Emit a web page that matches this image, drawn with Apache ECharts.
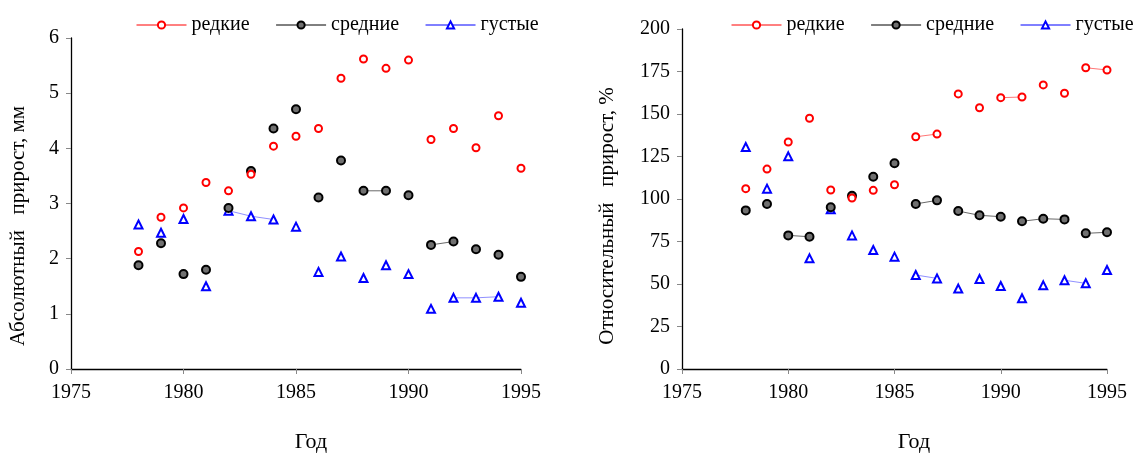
<!DOCTYPE html>
<html>
<head>
<meta charset="utf-8">
<script src="https://cdn.jsdelivr.net/npm/echarts@6/dist/echarts.min.js"></script>
<style>html,body{margin:0;padding:0;background:#fff}#c{width:1136px;height:457px}</style>
</head>
<body>
<div id="c"></div>
<script>
const years = [1978,1979,1980,1981,1982,1983,1984,1985,1986,1987,1988,1989,1990,1991,1992,1993,1994,1995];
const seriesNames = ['редкие','средние','густые'];
const absRare   = [2.13,2.75,2.92,3.38,3.23,3.53,4.04,4.22,4.36,5.27,5.62,5.45,5.60,4.16,4.36,4.01,4.59,3.64];
const absMedium = [1.88,2.28,1.72,1.80,2.92,3.59,4.36,4.71,3.11,3.78,3.23,3.23,3.15,2.25,2.31,2.17,2.07,1.67];
const absDense  = [2.62,2.47,2.72,1.50,2.87,2.77,2.71,2.58,1.76,2.04,1.65,1.88,1.72,1.09,1.29,1.29,1.31,1.20];
const relRare   = [106.1,117.6,133.5,147.5,105.3,100.6,105.1,108.4,136.6,138.2,161.8,153.7,159.6,160.0,167.1,162.2,177.2,175.9];
const relMedium = [93.3,97.1,78.6,77.8,95.1,101.9,113.1,121.0,97.1,99.2,92.9,90.4,89.6,86.9,88.4,88.0,79.8,80.4];
const relDense  = [130.6,106.1,125.1,65.1,93.9,78.6,70.0,66.1,55.3,53.3,47.3,52.9,48.8,41.6,49.2,52.2,50.4,58.2];
// years from which a connecting segment runs to the next year
const absRareLinks   = [];
const absMediumLinks = [1988,1991];
const absDenseLinks  = [1982,1983,1992,1993];
const relRareLinks   = [1986,1990,1994];
const relMediumLinks = [1980,1986,1988,1989,1991,1992,1994];
const relDenseLinks  = [1986,1993];
const xTicks = [1975,1980,1985,1990,1995];
const absTitle = 'Абсолютный   прирост, мм';
const relTitle = 'Относительный   прирост, %';
const xTitle = 'Год';

const FONT = 'Liberation Serif';
function buildData(vals, links){
  const out = [];
  years.forEach((y,i)=>{
    out.push([y, vals[i]]);
    if (i < years.length-1 && links.indexOf(y) < 0) out.push('-');
  });
  return out;
}
const styles = [
  {color:'#ff0000', symbol:'circle', size:7, fill:'#ffffff', line:'rgba(255,60,60,0.7)'},
  {color:'#000000', symbol:'circle', size:8, fill:'#707070', line:'rgba(40,40,40,0.7)'},
  {color:'#0000ff', symbol:'triangle', size:8, fill:'#ffffff', line:'rgba(70,70,255,0.6)'}
];
function mkSeries(idx, vals, links, gi){
  const s = styles[idx];
  return {
    type:'line', name:seriesNames[idx], xAxisIndex:gi, yAxisIndex:gi,
    data: buildData(vals, links), connectNulls:false,
    symbol:s.symbol, symbolSize:s.size, showAllSymbol:true,
    itemStyle:{color:s.fill, borderColor:s.color, borderWidth:2},
    lineStyle:{color:s.line, width:1},
    emphasis:{disabled:true}, animation:false, z: 3 - idx
  };
}
const axisCommon = {
  axisLine:{show:true, lineStyle:{color:'#000', width:1.3}},
  axisTick:{show:true, length:5, lineStyle:{color:'#888'}},
  splitLine:{show:false}
};
const labelStyle = {color:'#000', fontFamily:FONT, fontSize:20, margin:12, formatter:v=>String(v)};
function xAx(gi){
  return Object.assign({}, axisCommon, {type:'value', gridIndex:gi, min:xTicks[0], max:xTicks[xTicks.length-1], interval:5,
    axisLabel:Object.assign({}, labelStyle, {margin:14})});
}
function yAx(gi, max, interval){
  return Object.assign({}, axisCommon, {type:'value', gridIndex:gi, min:0, max:max, interval:interval,
    axisLabel:Object.assign({}, labelStyle)});
}
function legendData(){
  return seriesNames.map((n,i)=>({name:n, lineStyle:{color:styles[i].color, width:1}}));
}
const legendCommon = {
  orient:'horizontal', itemWidth:50, itemHeight:9, itemGap:26, top:10, width:600,
  textStyle:{fontFamily:FONT, fontSize:20, color:'#000'},
  selectedMode:false
};
const chart = echarts.init(document.getElementById('c'), null, {renderer:'canvas'});
chart.setOption({
  animation:false,
  backgroundColor:'#fff',
  grid:[
    {left:71, right:1136-521, top:38, bottom:88},
    {left:682, right:1136-1107, top:29, bottom:88}
  ],
  xAxis:[xAx(0), xAx(1)],
  yAxis:[yAx(0,6,1), yAx(1,200,25)],
  legend:[
    Object.assign({}, legendCommon, {left:131, data:legendData()}),
    Object.assign({}, legendCommon, {left:726, data:legendData()})
  ],
  series:[
    mkSeries(0, absRare, absRareLinks, 0),
    mkSeries(1, absMedium, absMediumLinks, 0),
    mkSeries(2, absDense, absDenseLinks, 0),
    mkSeries(0, relRare, relRareLinks, 1),
    mkSeries(1, relMedium, relMediumLinks, 1),
    mkSeries(2, relDense, relDenseLinks, 1)
  ],
  graphic:[
    {type:'text', x:18, y:226, rotation:Math.PI/2, style:{text:absTitle, font:'21px "Liberation Serif"', fill:'#000', align:'center', verticalAlign:'middle'}},
    {type:'text', x:607, y:216, rotation:Math.PI/2, style:{text:relTitle, font:'21px "Liberation Serif"', fill:'#000', align:'center', verticalAlign:'middle'}},
    {type:'text', x:311, y:442, style:{text:xTitle, font:'22px "Liberation Serif"', fill:'#000', align:'center', verticalAlign:'middle'}},
    {type:'text', x:914, y:442, style:{text:xTitle, font:'22px "Liberation Serif"', fill:'#000', align:'center', verticalAlign:'middle'}}
  ]
});
</script>
</body>
</html>
